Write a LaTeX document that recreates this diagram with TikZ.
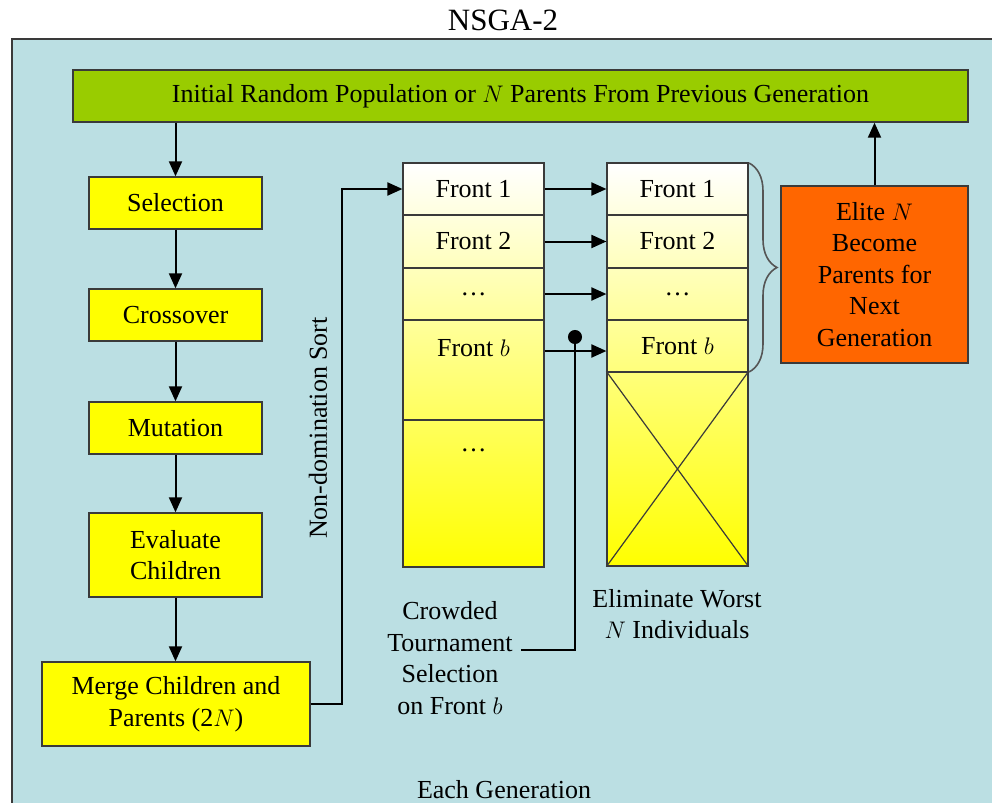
\documentclass[tikz,border=0pt]{standalone}
\usepackage{fontspec}
\setmainfont{Liberation Serif}
\usetikzlibrary{arrows.meta, positioning, calc, decorations.pathreplacing}
\definecolor{cbg}{HTML}{BBDFE3}
\definecolor{cgreen}{HTML}{99CC00}
\definecolor{cyellow}{HTML}{FFFF00}
\definecolor{corange}{HTML}{FF6600}
\definecolor{cline}{HTML}{3A3A3A}
\definecolor{cbrace}{HTML}{555555}
\tikzset{
  every picture/.style={font=\fontsize{13}{15.75}\selectfont},
  box/.style={draw=cline, fill=#1, line width=0.7pt, align=center, inner sep=0pt},
  box/.default=cyellow,
  cell/.style={draw=cline, line width=0.6pt, minimum width=70.5pt, inner sep=0pt},
  arrow/.style={-{Triangle[length=7.5pt, width=6.5pt]}, draw=black, line width=1pt},
  note/.style={align=center, inner sep=4pt},
}
\begin{document}
\begin{tikzpicture}[x=0.5pt, y=-0.5pt]
  \useasboundingbox (0,0) rectangle (992,803);
  \node[font=\fontsize{15.5}{18}\selectfont] (title) at (503,20) {NSGA-2};
  % frame
  \draw[cline, fill=cbg, line width=1pt] (1010,39) -- (12,39) -- (12,820);
  \fill[cbg] (13,40) rectangle (1010,820);
  % top bar and left column
  \node[box=cgreen, minimum width=447.5pt, minimum height=26pt] (pop) at (520.5,96) {Initial Random Population or $N$ Parents From Previous Generation};
  \node[box, minimum width=86.5pt, minimum height=26pt] (sel) at (175.5,203) {Selection};
  \node[box, minimum width=86.5pt, minimum height=26pt] (cross) at (175.5,315) {Crossover};
  \node[box, minimum width=86.5pt, minimum height=26pt] (mut) at (175.5,428) {Mutation};
  \node[box, minimum width=86.5pt, minimum height=42pt] (eval) at (175.5,555) {Evaluate\\Children};
  \node[box, minimum width=134pt, minimum height=42pt] (merge) at (176,704) {Merge Children and\\Parents (2$N$)};
  \draw[arrow] (sel.north |- pop.south) -- (sel.north);
  \draw[arrow] (sel) -- (cross);
  \draw[arrow] (cross) -- (mut);
  \draw[arrow] (mut) -- (eval);
  \draw[arrow] (eval.south) -- (eval.south |- merge.north);
  % fronts
  \shade[top color=white, middle color=cyellow!20, bottom color=cyellow] (403,163) rectangle (544,567);
  \shade[top color=white, middle color=cyellow!20, bottom color=cyellow] (607,163) rectangle (748,566);
  \node[cell, minimum height=26pt] (l1) at (473.5,189) {Front 1};
  \node[cell, minimum height=26.5pt] (l2) at (473.5,241.5) {Front 2};
  \node[cell, minimum height=26pt] (l3) at (473.5,294) {\dots};
  \node[cell, minimum height=50pt] (l4) at (473.5,370) {};
  \node[cell, minimum height=73.5pt] (l5) at (473.5,493.5) {};
  \node (l4t) at (473.5,348) {Front $b$};
  \node (l5t) at (473.5,450) {\dots};
  \node[cell, minimum height=26pt] (r1) at (677.5,189) {Front 1};
  \node[cell, minimum height=26.5pt] (r2) at (677.5,241.5) {Front 2};
  \node[cell, minimum height=26pt] (r3) at (677.5,294) {\dots};
  \node[cell, minimum height=26pt] (r4) at (677.5,346) {Front $b$};
  \node[cell, minimum height=97pt] (r5) at (677.5,469) {};
  \draw[cline, line width=0.6pt] (r5.north west) -- (r5.south east) (r5.north east) -- (r5.south west);
  \draw[arrow] (l1) -- (r1);
  \draw[arrow] (l2) -- (r2);
  \draw[arrow] (l3) -- (r3);
  \draw[arrow] (l4.east |- 0,351) -- (r4.west |- 0,351);
  \draw[arrow] (merge.east) -- ++(31,0) |- (l1.west);
  \node[rotate=90] (sort) at (318,428) {Non-domination Sort};
  % crowded tournament
  \node[note] (crowd) at (450,658) {Crowded\\Tournament\\Selection\\on Front $b$};
  \coordinate (dot) at (575,330);
  \draw[-{Circle[length=7pt]}, line width=1pt] ([yshift=4pt]crowd.east) -| (dot);
  \node[note] (elim) at (677,614) {Eliminate Worst\\$N$ Individuals};
  % elite
  \node[box=corange, minimum width=93.5pt, minimum height=88.5pt] (elite) at (874.5,274.5) {Elite $N$\\Become\\Parents for\\Next\\Generation};
  \draw[cbrace, line width=0.8pt, decorate, decoration={brace, amplitude=14pt}] (749,163) -- (749,372);
  \draw[arrow] (elite.north) -- (elite.north |- pop.south);
  \node (gen) at (504,790) {Each Generation};
\end{tikzpicture}
\end{document}
